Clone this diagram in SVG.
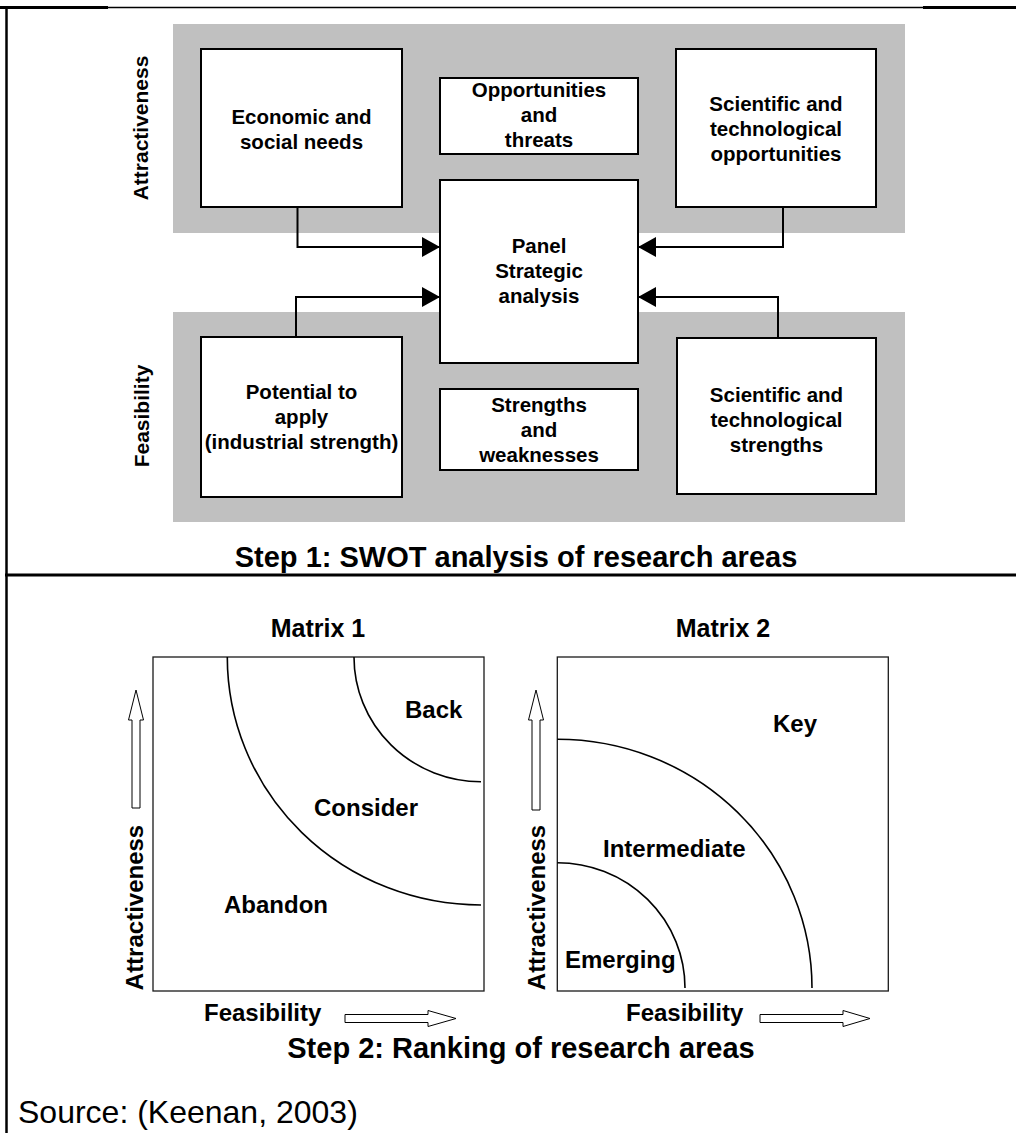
<svg xmlns="http://www.w3.org/2000/svg" width="1016" height="1133" viewBox="0 0 1016 1133">
  <style>
    .band { fill: #c0c0c0; }
    .box { fill: #ffffff; stroke: #000000; stroke-width: 2; }
    .lbl { font-family: "Liberation Sans", Arial, sans-serif; font-weight: bold; font-size: 20.5px; fill: #000000; text-anchor: middle; }
    .side { font-family: "Liberation Sans", Arial, sans-serif; font-weight: bold; font-size: 21px; fill: #000000; text-anchor: middle; }
    .title { font-family: "Liberation Sans", Arial, sans-serif; font-weight: bold; font-size: 29px; fill: #000000; text-anchor: middle; }
    .mtitle { font-family: "Liberation Sans", Arial, sans-serif; font-weight: bold; font-size: 25px; fill: #000000; text-anchor: middle; }
    .zone { font-family: "Liberation Sans", Arial, sans-serif; font-weight: bold; font-size: 24px; fill: #000000; }
    .axis { font-family: "Liberation Sans", Arial, sans-serif; font-weight: bold; font-size: 24px; fill: #000000; }
    .frame { fill: #ffffff; stroke: #1a1a1a; stroke-width: 1.3; }
    .curve { fill: none; stroke: #000000; stroke-width: 1.6; }
    .hollow { fill: #ffffff; stroke: #000000; stroke-width: 1; }
    .link { fill: none; stroke: #000000; stroke-width: 2; }
    .rule { stroke: #000000; }
  </style>
  <defs>
    <marker id="head" viewBox="0 0 18 20" refX="18" refY="10" markerWidth="18" markerHeight="20" markerUnits="userSpaceOnUse" orient="auto">
      <path d="M0,0 L18,10 L0,20 Z" fill="#000000"/>
    </marker>
  </defs>

  <!-- page frame and dividers -->
  <g id="frame">
    <line class="rule" x1="0" y1="7.5" x2="1016" y2="7.5" stroke-width="1.5"/>
    <line class="rule" x1="0" y1="7.5" x2="108" y2="7.5" stroke-width="3"/>
    <line class="rule" x1="923" y1="7.5" x2="1016" y2="7.5" stroke-width="3"/>
    <line class="rule" x1="6.5" y1="6" x2="6.5" y2="1133" stroke-width="2.5"/>
    <line class="rule" x1="5" y1="575" x2="1016" y2="575" stroke-width="3"/>
  </g>

  <!-- step 1: SWOT bands -->
  <rect class="band" x="173" y="24" width="732" height="209"/>
  <rect class="band" x="173" y="312" width="732" height="210"/>
  <text class="side" transform="translate(148,128) rotate(-90)">Attractiveness</text>
  <text class="side" transform="translate(149,416) rotate(-90)">Feasibility</text>

  <g id="connectors">
    <path class="link" d="M297.5,207 V247 H440" marker-end="url(#head)"/>
    <path class="link" d="M783,207 V247 H638" marker-end="url(#head)"/>
    <path class="link" d="M296,337 V297 H440" marker-end="url(#head)"/>
    <path class="link" d="M778,338 V297 H638" marker-end="url(#head)"/>
  </g>

  <g id="economic-social-needs">
    <rect class="box" x="201" y="49" width="201" height="158"/>
    <text class="lbl" x="301.5" y="124">Economic and</text>
    <text class="lbl" x="301.5" y="149">social needs</text>
  </g>
  <g id="opportunities-threats">
    <rect class="box" x="440" y="78" width="198" height="76"/>
    <text class="lbl" x="539" y="97">Opportunities</text>
    <text class="lbl" x="539" y="122">and</text>
    <text class="lbl" x="539" y="147">threats</text>
  </g>
  <g id="scientific-opportunities">
    <rect class="box" x="676" y="49" width="200" height="158"/>
    <text class="lbl" x="776" y="111">Scientific and</text>
    <text class="lbl" x="776" y="136">technological</text>
    <text class="lbl" x="776" y="161">opportunities</text>
  </g>
  <g id="panel">
    <rect class="box" x="440" y="180" width="198" height="183"/>
    <text class="lbl" x="539" y="253">Panel</text>
    <text class="lbl" x="539" y="278">Strategic</text>
    <text class="lbl" x="539" y="303">analysis</text>
  </g>
  <g id="potential-to-apply">
    <rect class="box" x="201" y="337" width="201" height="160"/>
    <text class="lbl" x="301.5" y="399">Potential to</text>
    <text class="lbl" x="301.5" y="424">apply</text>
    <text class="lbl" x="301.5" y="449">(industrial strength)</text>
  </g>
  <g id="strengths-weaknesses">
    <rect class="box" x="440" y="389" width="198" height="81"/>
    <text class="lbl" x="539" y="412">Strengths</text>
    <text class="lbl" x="539" y="437">and</text>
    <text class="lbl" x="539" y="462">weaknesses</text>
  </g>
  <g id="scientific-strengths">
    <rect class="box" x="677" y="338" width="199" height="156"/>
    <text class="lbl" x="776.5" y="402">Scientific and</text>
    <text class="lbl" x="776.5" y="427">technological</text>
    <text class="lbl" x="776.5" y="452">strengths</text>
  </g>

  <text class="title" x="516" y="567">Step 1: SWOT analysis of research areas</text>

  <!-- step 2: matrix 1 (zone borders are quarter ellipses centred on the top-right corner) -->
  <g id="matrix-1">
    <text class="mtitle" x="318" y="637">Matrix 1</text>
    <rect class="frame" x="153" y="657" width="331" height="334"/>
    <path class="curve" d="M227.3,657 A253.7,248 0 0 0 481,905"/>
    <path class="curve" d="M354,657 A127,124.7 0 0 0 481,781.7"/>
    <text class="zone" x="405" y="718">Back</text>
    <text class="zone" x="314" y="816">Consider</text>
    <text class="zone" x="224" y="913">Abandon</text>
    <polygon class="hollow" points="136,690 143.5,720 140,720 140,808 132,808 132,720 128.5,720"/>
    <text class="axis" text-anchor="middle" transform="translate(143,907.5) rotate(-90)">Attractiveness</text>
    <text class="axis" x="204" y="1021">Feasibility</text>
    <polygon class="hollow" points="345,1014.5 428,1014.5 428,1010.5 456,1018.5 428,1026.5 428,1022.5 345,1022.5"/>
  </g>

  <!-- step 2: matrix 2 (zone borders are quarter ellipses centred on the bottom-left corner) -->
  <g id="matrix-2">
    <text class="mtitle" x="723" y="637">Matrix 2</text>
    <rect class="frame" x="557.3" y="657" width="331" height="334"/>
    <path class="curve" d="M557.3,739.3 A254.7,248.7 0 0 1 812,988"/>
    <path class="curve" d="M557.3,862.7 A127.7,125.3 0 0 1 685,988"/>
    <text class="zone" x="773" y="732">Key</text>
    <text class="zone" x="603" y="857">Intermediate</text>
    <text class="zone" x="565" y="968">Emerging</text>
    <polygon class="hollow" points="536,690 543.5,720 540,720 540,810 532,810 532,720 528.5,720"/>
    <text class="axis" text-anchor="middle" transform="translate(545,907.5) rotate(-90)">Attractiveness</text>
    <text class="axis" x="626" y="1021">Feasibility</text>
    <polygon class="hollow" points="760,1014.5 843,1014.5 843,1010.5 870,1018.5 843,1026.5 843,1022.5 760,1022.5"/>
  </g>

  <text class="title" x="521" y="1058">Step 2: Ranking of research areas</text>

  <text x="18" y="1123" font-family="'Liberation Sans', Arial, sans-serif" font-size="32" fill="#000000">Source: (Keenan, 2003)</text>
</svg>
